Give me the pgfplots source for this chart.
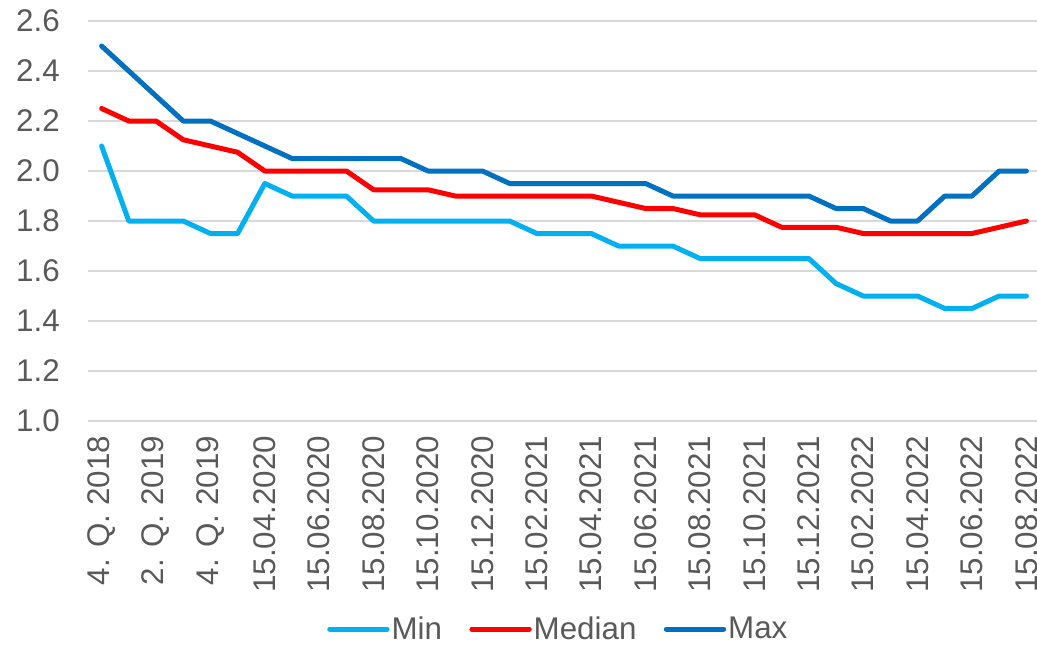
\documentclass[border=0pt]{standalone}
\usepackage{fontspec}
\setmainfont{Liberation Sans}
\usepackage{pgfplots}
\usepackage{pgfplotstable}
\pgfplotsset{compat=1.18}
\definecolor{cMin}{HTML}{00B0F0}
\definecolor{cMed}{HTML}{FF0000}
\definecolor{cMax}{HTML}{0070C0}
\definecolor{cGrid}{HTML}{D9D9D9}
\definecolor{cText}{HTML}{595959}
\pgfplotstableread{
x mn md mx
0 2.10 2.25 2.50
1 1.80 2.20 2.40
2 1.80 2.20 2.30
3 1.80 2.125 2.20
4 1.75 2.10 2.20
5 1.75 2.075 2.15
6 1.95 2.00 2.10
7 1.90 2.00 2.05
8 1.90 2.00 2.05
9 1.90 2.00 2.05
10 1.80 1.925 2.05
11 1.80 1.925 2.05
12 1.80 1.925 2.00
13 1.80 1.90 2.00
14 1.80 1.90 2.00
15 1.80 1.90 1.95
16 1.75 1.90 1.95
17 1.75 1.90 1.95
18 1.75 1.90 1.95
19 1.70 1.875 1.95
20 1.70 1.85 1.95
21 1.70 1.85 1.90
22 1.65 1.825 1.90
23 1.65 1.825 1.90
24 1.65 1.825 1.90
25 1.65 1.775 1.90
26 1.65 1.775 1.90
27 1.55 1.775 1.85
28 1.50 1.75 1.85
29 1.50 1.75 1.80
30 1.50 1.75 1.80
31 1.45 1.75 1.90
32 1.45 1.75 1.90
33 1.50 1.775 2.00
34 1.50 1.80 2.00
}\data
\begin{document}
\begin{tikzpicture}
\begin{axis}[
  scale only axis,
  width=714pt, height=300pt,
  xmin=-0.5, xmax=34.5,
  ymin=1.0, ymax=2.6,
  ytick={1.0,1.2,1.4,1.6,1.8,2.0,2.2,2.4,2.6},
  xtick={0,2,...,34},
  xticklabels={4. Q. 2018, 2. Q. 2019, 4. Q. 2019, 15.04.2020, 15.06.2020, 15.08.2020, 15.10.2020, 15.12.2020, 15.02.2021, 15.04.2021, 15.06.2021, 15.08.2021, 15.10.2021, 15.12.2021, 15.02.2022, 15.04.2022, 15.06.2022, 15.08.2022},
  axis line style={draw=none},
  major tick length=0pt,
  ymajorgrids,
  grid style={cGrid, line width=1.2pt},
  /pgf/number format/.cd, fixed, fixed zerofill, precision=1, assume math mode=true,
  /pgfplots/.cd,
  ticklabel style={font=\fontsize{23.5}{27}\selectfont, text=cText, inner sep=0pt},
  xticklabel style={rotate=90, anchor=east},
  xticklabel shift=11pt,
  yticklabel shift=21pt,
  legend columns=3,
  legend style={at={(0.494,-0.52)}, anchor=center, draw=none, fill=none,
    font=\fontsize{23.5}{27}\selectfont, text=cText,
    nodes={inner sep=1.5pt},
    /tikz/every even column/.append style={column sep=19pt}},
  legend image code/.code={\draw[#1, line cap=round] (0pt,0pt) -- (43pt,0pt);},
  every axis plot/.append style={line width=3.75pt, line join=round, line cap=round},
  clip=false,
]
\addplot[cMin] table[x=x, y=mn] {\data};
\addlegendentry{Min}
\addplot[cMed] table[x=x, y=md] {\data};
\addlegendentry{Median}
\addplot[cMax] table[x=x, y=mx] {\data};
\addlegendentry{Max}
\end{axis}
\pgfresetboundingbox
\path ([shift={(-66pt,-167.25pt)}]current axis.south west) rectangle ([shift={(-2.25pt,15.75pt)}]current axis.north east);
\end{tikzpicture}
\end{document}
